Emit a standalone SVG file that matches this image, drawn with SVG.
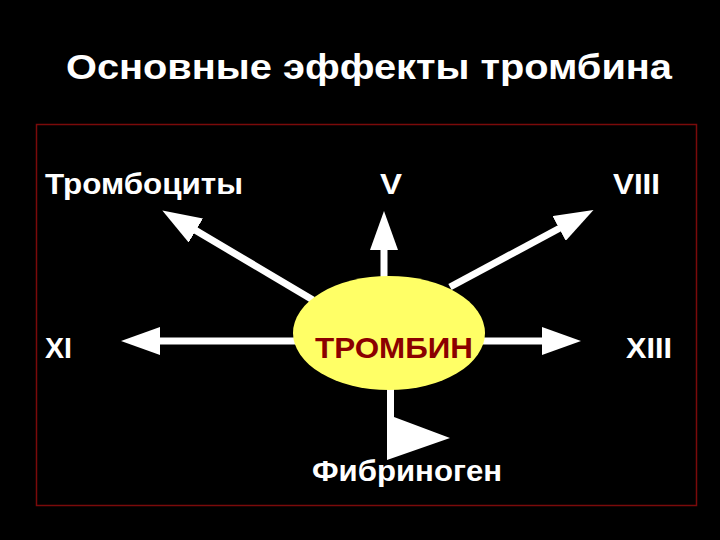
<svg xmlns="http://www.w3.org/2000/svg" width="720" height="540" viewBox="0 0 720 540">
<style>
text{font-family:"Liberation Sans",Arial,sans-serif;font-weight:bold;fill:#fff}
.lbl{font-size:30px}
.ln{stroke:#fff;stroke-width:7;fill:none}
</style>
<defs>
<marker id="ah" markerUnits="userSpaceOnUse" markerWidth="40" markerHeight="28" refX="1" refY="14" orient="auto" viewBox="0 0 40 28">
<path d="M0,0 L39,14 L0,28 Z" fill="#fff"/>
</marker>
</defs>
<rect x="0" y="0" width="720" height="540" fill="#000"/>
<text id="title" x="66" y="79" font-size="35" textLength="606" lengthAdjust="spacingAndGlyphs">Основные эффекты тромбина</text>
<rect id="frame" x="36.5" y="124.5" width="660" height="381" fill="none" stroke="#7a0a0a" stroke-width="1.5"/>
<g id="connectors">
<path class="ln" d="M313,300 L195,230" marker-end="url(#ah)"/>
<path class="ln" d="M384,285 L384,249" marker-end="url(#ah)"/>
<path class="ln" d="M450,287 L560,228" marker-end="url(#ah)"/>
<path class="ln" d="M300,341 L159,341" marker-end="url(#ah)"/>
<path class="ln" d="M478,341 L543,341" marker-end="url(#ah)"/>
<path d="M387,385 L394,385 L394,417 L450,438 L387,460 Z" fill="#fff"/>
</g>
<g id="thrombin">
<ellipse cx="389" cy="333" rx="96" ry="57" fill="#ffff66"/>
<text x="315" y="358" class="lbl" style="fill:#8b0000" textLength="158" lengthAdjust="spacingAndGlyphs">ТРОМБИН</text>
</g>
<g id="platelets"><text class="lbl" x="45" y="194" textLength="198" lengthAdjust="spacingAndGlyphs">Тромбоциты</text></g>
<g id="f5"><text class="lbl" x="380" y="194" textLength="22" lengthAdjust="spacingAndGlyphs">V</text></g>
<g id="f8"><text class="lbl" x="613" y="194" textLength="47" lengthAdjust="spacingAndGlyphs">VIII</text></g>
<g id="f11"><text class="lbl" x="45" y="358" textLength="27" lengthAdjust="spacingAndGlyphs">XI</text></g>
<g id="f13"><text class="lbl" x="626" y="358" textLength="46" lengthAdjust="spacingAndGlyphs">XIII</text></g>
<g id="fibrinogen"><text class="lbl" x="312" y="481" textLength="190" lengthAdjust="spacingAndGlyphs">Фибриноген</text></g>
</svg>
